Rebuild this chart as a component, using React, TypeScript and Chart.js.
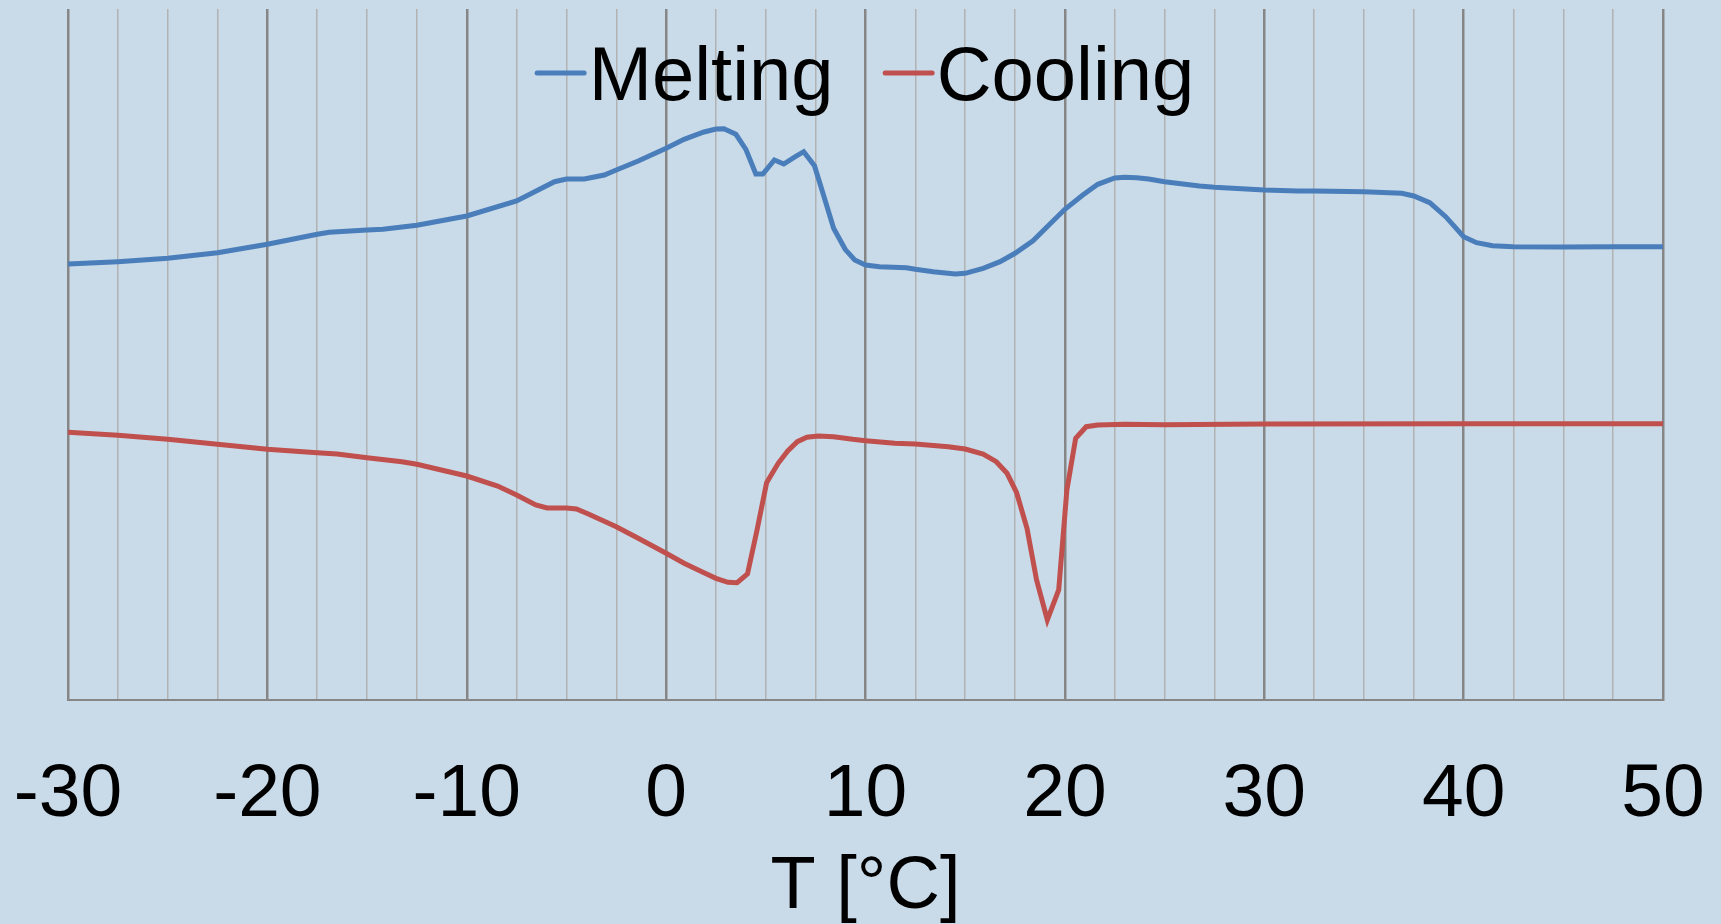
import React, { useEffect, useRef } from "react";
import { Chart, registerables } from "chart.js";

Chart.register(...registerables);

// ---- data ----
const seriesNames = ["Melting", "Cooling"];
const seriesColors = ["#4A7EBB", "#C0504D"];

const meltingT = [
  -30, -27.5, -25, -22.5, -20, -17.5, -16.9, -15, -14.2, -12.5, -10, -7.5, -5.6, -5, -4.1, -3.1, -2.5, -1.4,
  0, 0.9, 1.9, 2.5, 2.9, 3.5, 4.0, 4.5, 4.85, 5.43, 5.9, 6.48, 6.9, 7.44, 7.92, 8.4, 8.98, 9.46,
  10, 10.7, 12.05, 12.5, 13.4, 14.5, 15.0, 15.9, 16.75, 17.5, 18.4, 19.15, 20, 20.9, 21.65, 22.5,
  23.0, 23.6, 24.2, 25, 26.75, 27.5, 30, 31.7, 32.5, 35, 36.9, 37.5, 38.3, 39.1, 40, 40.65, 41.45,
  42.5, 45, 47.5, 50,
];
const meltingHeat = [
  4.36, 4.383, 4.417, 4.473, 4.557, 4.657, 4.677, 4.7, 4.707, 4.747, 4.84, 4.99, 5.183, 5.21, 5.21, 5.25, 5.3, 5.39,
  5.517, 5.607, 5.68, 5.71, 5.713, 5.657, 5.507, 5.26, 5.26, 5.4, 5.36, 5.433, 5.483, 5.343, 5.033, 4.717, 4.507, 4.4,
  4.35, 4.333, 4.323, 4.307, 4.283, 4.26, 4.267, 4.317, 4.383, 4.467, 4.593, 4.74, 4.907, 5.05, 5.157, 5.22,
  5.227, 5.223, 5.21, 5.183, 5.14, 5.127, 5.1, 5.09, 5.09, 5.083, 5.067, 5.04, 4.973, 4.833, 4.633, 4.573, 4.543,
  4.533, 4.53, 4.533, 4.533,
];

const coolingT = [
  -30, -27.5, -25, -22.5, -20, -17.5, -16.5, -15, -13.25, -12.5, -10, -8.45, -7.5, -6.54, -5.97, -5, -4.5, -3.9,
  -2.5, -1.4, 0, 0.9, 1.9, 2.5, 3.1, 3.56, 4.08, 4.56, 5.04, 5.62, 6.1, 6.58, 7.06, 7.63, 8.4, 9.36,
  10, 11.47, 12.5, 14.15, 15.0, 15.9, 16.56, 17.1, 17.58, 18.1, 18.58, 19.12, 19.69, 20.1, 20.54, 21.07,
  21.65, 23, 25, 30, 40, 50,
];
const coolingHeat = [
  2.677, 2.647, 2.607, 2.557, 2.507, 2.473, 2.46, 2.423, 2.383, 2.357, 2.24, 2.14, 2.05, 1.95, 1.92, 1.92, 1.91, 1.86,
  1.733, 1.617, 1.467, 1.367, 1.273, 1.217, 1.177, 1.173, 1.26, 1.7, 2.173, 2.367, 2.49, 2.583, 2.627, 2.64, 2.633, 2.607,
  2.593, 2.567, 2.56, 2.533, 2.51, 2.46, 2.383, 2.267, 2.073, 1.717, 1.2, 0.8, 1.1, 2.1, 2.617, 2.733,
  2.75, 2.757, 2.752, 2.76, 2.763, 2.763,
];

const xMin = -30;
const xMax = 50;
const xStep = 2.5;
const xLabelEvery = 10;
const xTitle = "T [°C]";

const FONT = "'Liberation Sans', Arial, Helvetica, sans-serif";

const legendPlugin = {
  id: "inAreaLegend",
  afterDraw(chart: any) {
    const { ctx, chartArea } = chart;
    const fontSize = 76;
    const lineLen = 52;
    const textGap = 2;
    const itemGap = 49;
    ctx.save();
    ctx.font = `${fontSize}px ${FONT}`;
    const items = chart.data.datasets.map((d: any) => ({
      label: d.label,
      color: d.borderColor,
      w: ctx.measureText(d.label).width,
    }));
    let total = 0;
    items.forEach((it: any, i: number) => {
      total += lineLen + textGap + it.w + (i > 0 ? itemGap : 0);
    });
    let x = (chartArea.left + chartArea.right) / 2 - total / 2 - 1;
    const baseline = chartArea.top + 91;
    const lineY = chartArea.top + 64;
    items.forEach((it: any) => {
      ctx.strokeStyle = it.color;
      ctx.lineWidth = 5;
      ctx.lineCap = "round";
      ctx.beginPath();
      ctx.moveTo(x + 2.5, lineY);
      ctx.lineTo(x + lineLen - 2.5, lineY);
      ctx.stroke();
      ctx.fillStyle = "#000000";
      ctx.textAlign = "left";
      ctx.textBaseline = "alphabetic";
      ctx.fillText(it.label, x + lineLen + textGap, baseline);
      x += lineLen + textGap + it.w + itemGap;
    });
    ctx.restore();
  },
};

export default function App() {
  const canvasRef = useRef<HTMLCanvasElement | null>(null);

  useEffect(() => {
    if (!canvasRef.current) return;
    const toPoints = (xs: number[], ys: number[]) => xs.map((x, i) => ({ x, y: ys[i] }));
    const chart = new Chart(canvasRef.current, {
      type: "line",
      data: {
        datasets: [
          {
            label: seriesNames[0],
            data: toPoints(meltingT, meltingHeat),
            borderColor: seriesColors[0],
            backgroundColor: seriesColors[0],
            borderWidth: 5,
            pointRadius: 0,
            tension: 0,
            fill: false,
          },
          {
            label: seriesNames[1],
            data: toPoints(coolingT, coolingHeat),
            borderColor: seriesColors[1],
            backgroundColor: seriesColors[1],
            borderWidth: 5,
            pointRadius: 0,
            tension: 0,
            fill: false,
          },
        ],
      },
      options: {
        animation: false,
        responsive: true,
        maintainAspectRatio: false,
        layout: { padding: { top: 9, left: 68, right: 58, bottom: 0 } },
        plugins: {
          legend: { display: false },
          tooltip: { enabled: false },
        },
        scales: {
          x: {
            type: "linear",
            min: xMin,
            max: xMax,
            grid: {
              drawTicks: false,
              color: (c: any) => (c.tick && Math.abs(c.tick.value % xLabelEvery) < 1e-6 ? "#868686" : "#b2b2b2"),
              lineWidth: (c: any) => (c.tick && Math.abs(c.tick.value % xLabelEvery) < 1e-6 ? 2.5 : 1.5),
            },
            border: { display: true, color: "#868686", width: 2 },
            ticks: {
              stepSize: xStep,
              autoSkip: false,
              maxRotation: 0,
              minRotation: 0,
              padding: 0,
              color: "#000000",
              font: { family: FONT, size: 75, lineHeight: "190.6px" },
              callback: (v: any) => (Math.abs(Number(v) % xLabelEvery) < 1e-6 ? String(v) : ""),
            },
            title: {
              display: true,
              text: xTitle,
              color: "#000000",
              font: { family: FONT, size: 74, lineHeight: "2px" },
              padding: { top: -3.6, bottom: 35 },
            },
          },
          y: {
            type: "linear",
            display: false,
            min: 0,
            max: 6.91,
          },
        },
      },
      plugins: [legendPlugin],
    });
    return () => chart.destroy();
  }, []);

  return (
    <div
      style={{
        position: "fixed",
        left: 0,
        top: 0,
        width: "100vw",
        height: "100vh",
        background: "#c9dae8",
      }}
    >
      <canvas ref={canvasRef} />
    </div>
  );
}
